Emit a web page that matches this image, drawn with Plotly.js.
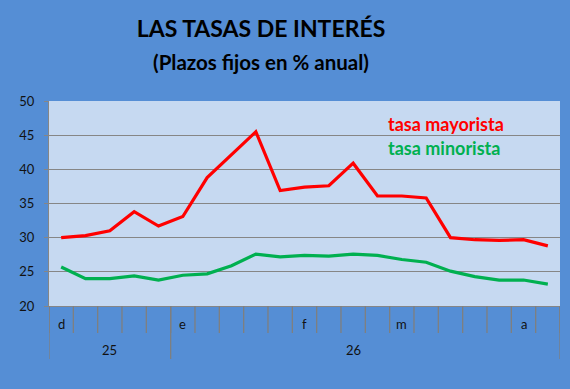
<!DOCTYPE html>
<html>
<head>
<meta charset="utf-8">
<script src="https://cdn.plot.ly/plotly-3.0.1.min.js"></script>
<style>
html,body{margin:0;padding:0;background:#558ED5;}
#chart{width:570px;height:389px;outline:2px solid #8a8a8a;outline-offset:-2px;}
</style>
</head>
<body>
<div id="chart"></div>
<script>
// Weekly observations (month label on first week of each month)
const monthLabels = ['d','','','','','e','','','','','f','','','','m','','','','','a',''];
const yearLabels  = ['25','25','25','25','25','26','26','26','26','26','26','26','26','26','26','26','26','26','26','26','26'];
const tasaMayorista = [30.0,30.3,31.0,33.8,31.7,33.1,38.8,42.1,45.5,36.9,37.4,37.6,40.9,36.1,36.1,35.8,30.0,29.7,29.6,29.7,28.8];
const tasaMinorista = [25.7,24.0,24.0,24.4,23.8,24.5,24.7,25.9,27.6,27.2,27.4,27.3,27.6,27.4,26.8,26.4,25.1,24.3,23.8,23.8,23.2];
const seriesNames = ['tasa mayorista','tasa minorista'];

const idx = tasaMayorista.map((_, i) => i + 1);
const n = idx.length;
const grey = '#868686';
const txt = '#111111';
const font = 'Lato, "Open Sans", sans-serif';

const traces = [
  {x: idx, y: tasaMayorista, name: seriesNames[0], type: 'scatter', mode: 'lines',
   line: {color: '#FF0000', width: 3.2}},
  {x: idx, y: tasaMinorista, name: seriesNames[1], type: 'scatter', mode: 'lines',
   line: {color: '#00B050', width: 3.2}}
];

const annotations = [];
const shapes = [];
// short category tick lines
for (let i = 0; i <= n; i++) {
  shapes.push({type: 'line', xref: 'x', yref: 'paper', x0: i + 0.5, x1: i + 0.5,
    y0: 0, y1: -0.1317, layer: 'above', line: {color: '#7f7f7f', width: 1.3}});
}
// month labels
monthLabels.forEach((m, i) => {
  if (m) annotations.push({x: i + 1, y: -0.088, xref: 'x', yref: 'paper', text: m,
    showarrow: false, font: {family: font, size: 13, color: txt}, yanchor: 'middle'});
});
// year groups
let start = 0;
for (let i = 1; i <= n; i++) {
  if (i === n || yearLabels[i] !== yearLabels[start]) {
    const cnt = i - start;
    const pos = start + Math.floor((cnt - 1) / 2) + 1;
    annotations.push({x: pos, y: -0.215, xref: 'x', yref: 'paper', text: yearLabels[start],
      showarrow: false, font: {family: font, size: 13, color: txt}, yanchor: 'middle'});
    shapes.push({type: 'line', xref: 'x', yref: 'paper', x0: start + 0.5, x1: start + 0.5,
      y0: 0, y1: -0.2585, line: {color: '#7f7f7f', width: 1.3}});
    start = i;
  }
}
shapes.push({type: 'line', xref: 'x', yref: 'paper', x0: n + 0.5, x1: n + 0.5,
  y0: 0, y1: -0.2585, line: {color: '#7f7f7f', width: 1.3}});

// legend-like labels
annotations.push({x: 0.6595, y: 0.888, xref: 'paper', yref: 'paper', text: '<b>' + seriesNames[0] + '</b>',
  showarrow: false, xanchor: 'left', yanchor: 'middle', font: {family: font, size: 18, color: '#FF0000'}});
annotations.push({x: 0.6595, y: 0.772, xref: 'paper', yref: 'paper', text: '<b>' + seriesNames[1] + '</b>',
  showarrow: false, xanchor: 'left', yanchor: 'middle', font: {family: font, size: 18, color: '#00B050'}});
// subtitle
annotations.push({x: 0.415, xref: 'paper', y: 1.19, yref: 'paper', text: '<b>(Plazos fijos en % anual)</b>',
  showarrow: false, xanchor: 'center', yanchor: 'middle', font: {family: font, size: 20.5, color: '#000'}});

const layout = {
  width: 570, height: 389,
  margin: {l: 49, r: 10, t: 101, b: 83},
  paper_bgcolor: '#558ED5',
  plot_bgcolor: '#C6D9F1',
  showlegend: false,
  title: {text: '<b>LAS TASAS DE INTERÉS</b>', x: 261/570, xanchor: 'center', xref: 'container',
    y: 1 - 29/389, yanchor: 'middle', yref: 'container',
    font: {family: font, size: 23, color: '#000'}},
  xaxis: {range: [0.5, n + 0.5], showticklabels: false, ticks: '',
    showgrid: false, zeroline: false, showline: true, linecolor: grey, linewidth: 1, fixedrange: true},
  yaxis: {range: [20, 50], dtick: 5, tick0: 20, ticks: 'outside', ticklen: 4, tickcolor: grey,
    showgrid: true, gridcolor: grey, gridwidth: 1, zeroline: false, showline: true, linecolor: grey,
    ticklabelstandoff: 7,
    tickfont: {family: font, size: 13, color: txt}, fixedrange: true},
  annotations: annotations,
  shapes: shapes
};

Plotly.newPlot('chart', traces, layout, {displayModeBar: false, staticPlot: true});
</script>
</body>
</html>
